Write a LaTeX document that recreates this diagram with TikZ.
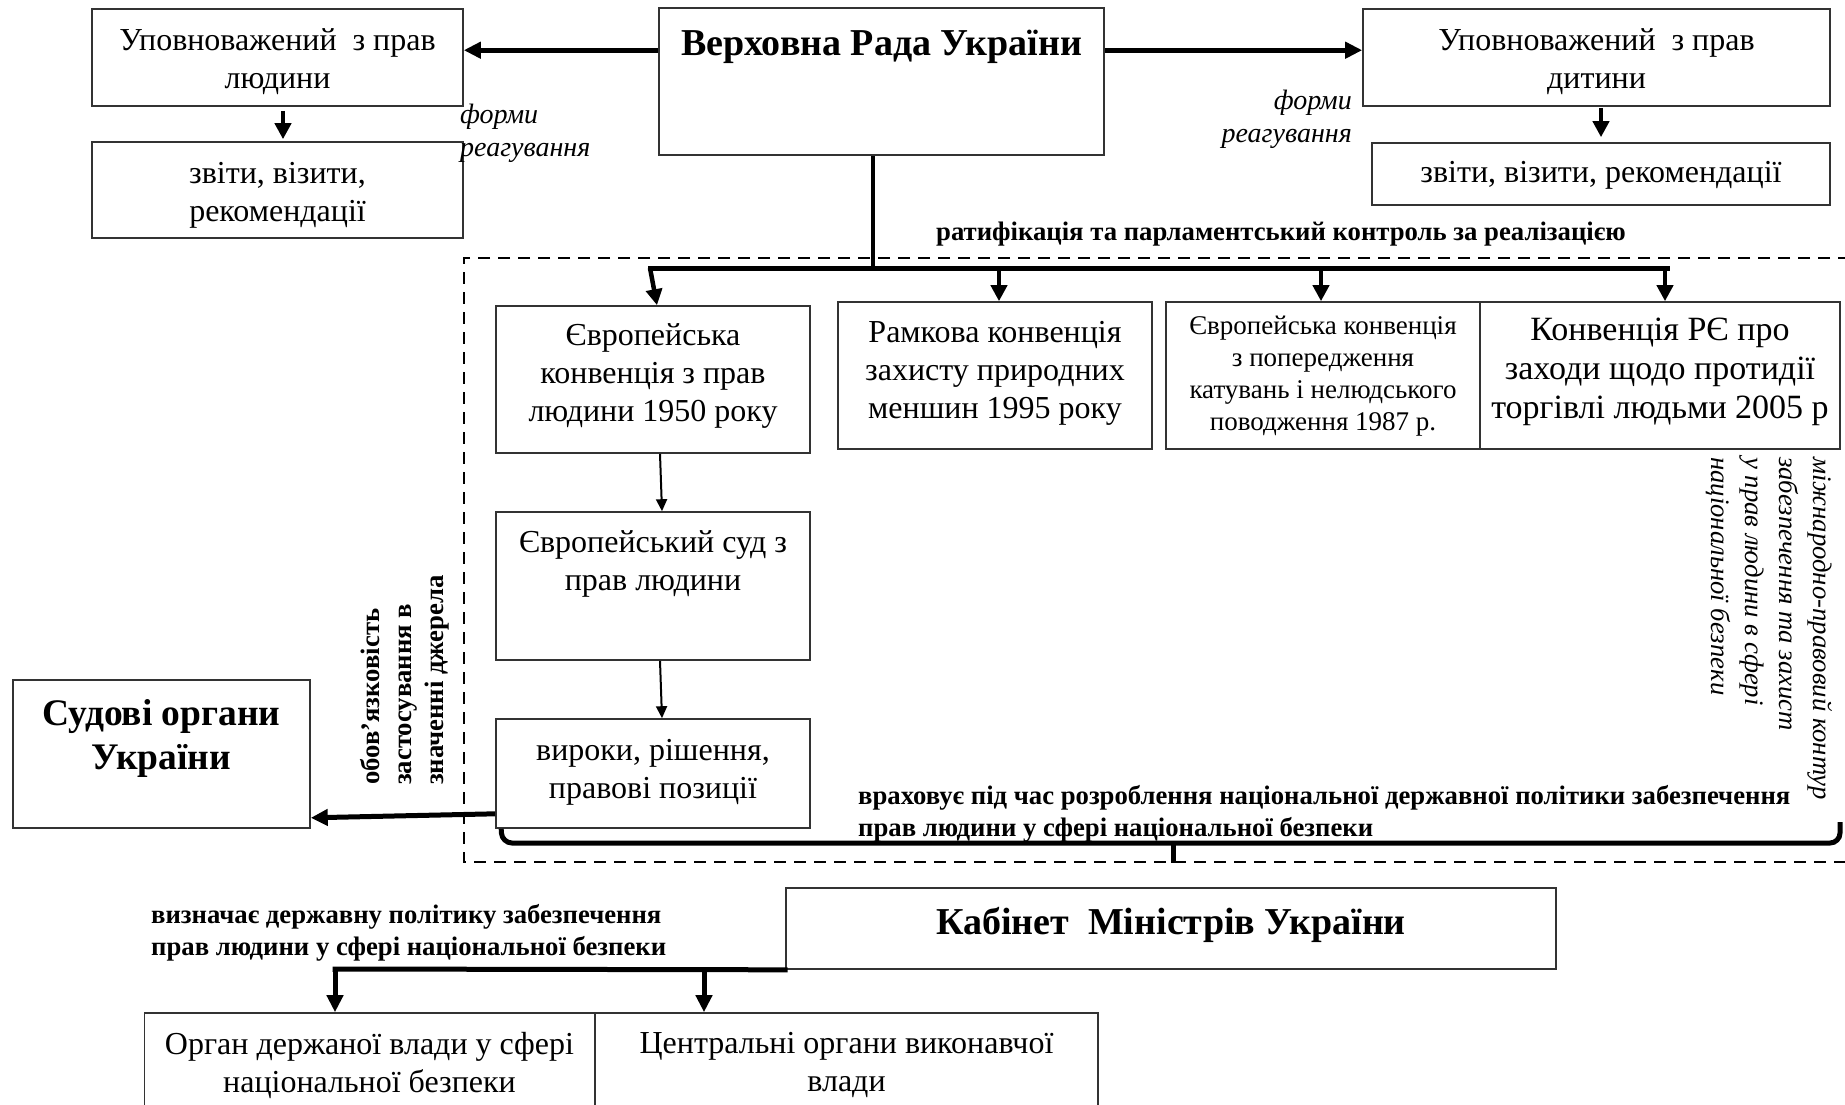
\documentclass[tikz,border=0pt]{standalone}
\usepackage{fontspec}
\setmainfont{Liberation Serif}
\usetikzlibrary{arrows.meta}
\begin{document}
\begin{tikzpicture}[x=1pt,y=-1pt,
  box/.style={draw=black!80, line width=1.6pt, inner sep=0pt, fill=white},
  reg/.style={font=\fontsize{32}{38}\selectfont, align=center, inner sep=0pt},
  smalltxt/.style={font=\fontsize{27}{32}\selectfont, align=center, inner sep=0pt},
  largetxt/.style={font=\fontsize{34}{39}\selectfont, align=center, inner sep=0pt},
  title/.style={font=\fontsize{38}{44}\selectfont\bfseries, align=center, inner sep=0pt},
  blabel/.style={font=\fontsize{26.7}{32}\selectfont\bfseries, inner sep=0pt},
  ilabel/.style={font=\fontsize{28}{33}\selectfont\itshape, inner sep=0pt},
  thickarrow/.style={line width=5pt, -{Triangle[length=17pt,width=16pt]}},
  midarrow/.style={line width=4.5pt, -{Triangle[length=16pt,width=16pt]}},
  thinarrow/.style={line width=2pt, -{Triangle[length=12pt,width=11pt]}},
  busline/.style={line width=5pt, line cap=rect},
  frameline/.style={line width=2.5pt, dash pattern=on 12pt off 8pt}
]
\useasboundingbox (0,0) rectangle (1845,1104);
\fill[white] (0,0) rectangle (1845,1104);
\clip (0,0) rectangle (1845,1104);

% dashed frame
\coordinate (frTR) at (1850,258);
\coordinate (frTL) at (464,258);
\coordinate (frBL) at (464,862);
\coordinate (frBR) at (1850,862);
\draw[frameline] (frTR) -- (frTL) -- (frBL) -- (frBR);

% boxes
\node[box, minimum width=371pt, minimum height=97pt] (A) at (277.5,57.5) {};
\node[box, minimum width=371pt, minimum height=96pt] (B) at (277.5,190) {};
\node[box, minimum width=445pt, minimum height=147pt] (V) at (881.5,81.5) {};
\node[box, minimum width=467pt, minimum height=97pt] (C) at (1596.5,57.5) {};
\node[box, minimum width=458pt, minimum height=62pt] (D) at (1601,174) {};
\node[box, minimum width=314pt, minimum height=147pt] (E1) at (653,379.5) {};
\node[box, minimum width=314pt, minimum height=147pt] (E2) at (995,375.5) {};
\node[box, minimum width=314pt, minimum height=147pt] (E3) at (1323,375.5) {};
\node[box, minimum width=360pt, minimum height=147pt] (E4) at (1660,375.5) {};
\node[box, minimum width=314pt, minimum height=148pt] (F) at (653,586) {};
\node[box, minimum width=314pt, minimum height=109pt] (G) at (653,773.5) {};
\node[box, minimum width=297pt, minimum height=148pt] (S) at (161.5,754) {};
\node[box, minimum width=770pt, minimum height=81pt] (K) at (1171,928.5) {};
\node[box, minimum width=450pt, minimum height=102pt] (H1) at (369.5,1064) {};
\node[box, minimum width=503pt, minimum height=102pt] (H2) at (846.5,1064) {};

% box texts
\node[reg] (At) at (277.5,62) {Уповноважений\ \ з прав\\людини};
\node[reg] (Bt) at (277.5,195.5) {звіти, візити,\\рекомендації};
\node[title] (Vt) at (881.5,47) {Верховна Рада України};
\node[reg] (Ct) at (1596.5,62) {Уповноважений\ \ з прав\\дитини};
\node[reg] (Dt) at (1601,175) {звіти, візити, рекомендації};
\node[reg] (E1t) at (653,376) {Європейська\\конвенція з прав\\людини 1950 року};
\node[reg] (E2t) at (995,373.5) {Рамкова конвенція\\захисту природних\\меншин 1995 року};
\node[smalltxt] (E3t) at (1323,376.5) {Європейська конвенція\\з попередження\\катувань і нелюдського\\поводження 1987 р.};
\node[largetxt] (E4t) at (1660,372) {Конвенція РЄ про\\заходи щодо протидії\\торгівлі людьми 2005 р};
\node[reg] (Ft) at (653,563.5) {Європейський суд з\\прав людини};
\node[reg] (Gt) at (653,772) {вироки, рішення,\\правові позиції};
\node[title, font=\fontsize{37.5}{44}\selectfont\bfseries] (St) at (161.5,738.5) {Судові органи\\України};
\node[title] (Kt) at (1171,925) {Кабінет\ \ Міністрів України};
\node[reg] (H1t) at (369.5,1065) {Орган держаної влади у сфері\\національної безпеки};
\node[reg] (H2t) at (846.5,1065) {Центральні органи виконавчої\\влади};

% labels
\node[ilabel, align=left, anchor=west] (formL) at (460,133) {форми\\реагування};
\node[ilabel, align=right, anchor=east] (formR) at (1352,119) {форми\\реагування};
\node[blabel] (ratif) at (1281,234) {ратифікація та парламентський контроль за реалізацією};
\node[blabel, align=left, anchor=west] (vrakh) at (858,814) {враховує під час розроблення національної державної політики забезпечення\\прав людини у сфері національної безпеки};
\node[blabel, align=left, anchor=west] (vyzn) at (151,933) {визначає державну політику забезпечення\\прав людини у сфері національної безпеки};
\node[blabel, rotate=90, align=left, anchor=west] (oblig) at (405,785) {обов’язковість\\застосування в\\значенні джерела};
\node[font=\fontsize{26.7}{34}\selectfont\itshape, inner sep=0pt, rotate=-90, align=left, anchor=west] (contour) at (1769,457) {міжнародно-правовий контур\\забезпечення та захист\\у прав людини в сфері\\національної безпеки};

% top connectors
\draw[thickarrow] ([yshift=-43pt]V.north west) -- ([yshift=-42pt]A.north east);
\draw[thickarrow] ([yshift=-43pt]V.north east) -- ([yshift=-42pt]C.north west);
\draw[midarrow] ([xshift=5.5pt,yshift=-4pt]A.south) -- ([xshift=5.5pt,yshift=2pt]B.north);
\draw[midarrow] ([xshift=4.5pt,yshift=-1pt]C.south) -- ([yshift=5pt]D.north);

% distribution bus
\coordinate (busV) at (873,268);
\coordinate (busL) at (650,268);
\coordinate (busR) at (1667,268);
\draw[line width=4pt] (V.south -| busV) -- (busV);
\draw[busline] (busL) -- (busR);
\draw[midarrow] (busL) -- ([xshift=4pt]E1.north);
\draw[midarrow] ([xshift=4pt]E2.north |- busL) -- ([xshift=4pt]E2.north);
\draw[midarrow] ([xshift=-2pt]E3.north |- busL) -- ([xshift=-2pt]E3.north);
\draw[midarrow] ([xshift=5pt]E4.north |- busL) -- ([xshift=5pt]E4.north);

% court chain
\draw[thinarrow] ([xshift=7pt]E1.south) -- ([xshift=9pt]F.north);
\draw[thinarrow] ([xshift=7pt]F.south) -- ([xshift=9pt]G.north);
\draw[thickarrow] ([yshift=15pt]G.south west) -- ([yshift=11pt]S.south east);

% brace
\coordinate (brL) at (502,843);
\coordinate (brC) at (1173,843);
\coordinate (brR) at (1840,843);
\coordinate (brRend) at (1840,822);
\coordinate (brTip) at (1173,863);
\draw[line width=5pt, rounded corners=10pt] ([xshift=6pt]G.south west) -- (brL) -- (brR) -- (brRend);
\draw[line width=5pt] (brC) -- (brTip);

% cabinet bus
\coordinate (kbL) at (335,969);
\draw[busline] (K.south west) -- (kbL);
\draw[thickarrow] ([xshift=-34.5pt]H1.north |- K.south) -- ([xshift=-34.5pt]H1.north);
\draw[thickarrow] ([xshift=-142.5pt]H2.north |- K.south) -- ([xshift=-142.5pt]H2.north);
\end{tikzpicture}
\end{document}
